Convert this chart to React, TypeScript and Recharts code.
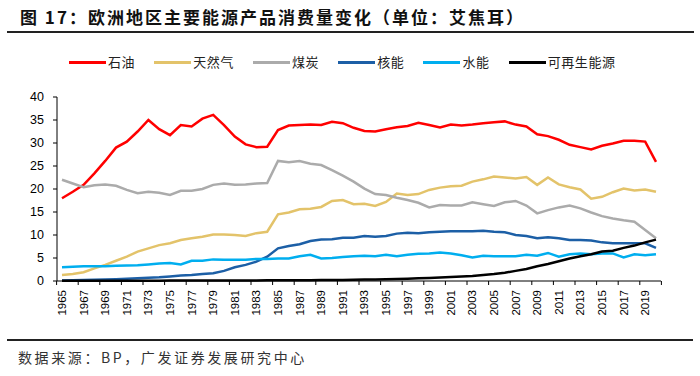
import { LineChart, Line, XAxis, YAxis } from "recharts";

const years = [
  "1965", "1966", "1967", "1968", "1969", "1970", "1971", "1972", "1973", "1974",
  "1975", "1976", "1977", "1978", "1979", "1980", "1981", "1982", "1983", "1984",
  "1985", "1986", "1987", "1988", "1989", "1990", "1991", "1992", "1993", "1994",
  "1995", "1996", "1997", "1998", "1999", "2000", "2001", "2002", "2003", "2004",
  "2005", "2006", "2007", "2008", "2009", "2010", "2011", "2012", "2013", "2014",
  "2015", "2016", "2017", "2018", "2019", "2020",
];

const oil = [
  18.0, 19.4, 20.9, 23.4, 26.1, 29.0, 30.3, 32.5, 35.0, 33.0,
  31.7, 33.9, 33.6, 35.3, 36.1, 33.9, 31.4, 29.7, 29.1, 29.2,
  32.8, 33.8, 33.9, 34.0, 33.9, 34.6, 34.3, 33.3, 32.6, 32.5,
  33.0, 33.4, 33.7, 34.4, 33.9, 33.4, 34.0, 33.8, 34.0, 34.3,
  34.5, 34.7, 34.0, 33.6, 31.9, 31.5, 30.7, 29.6, 29.1, 28.6,
  29.4, 29.9, 30.5, 30.5, 30.3, 25.9,
];

const gas = [
  1.3, 1.5, 1.9, 2.75, 3.5, 4.4, 5.3, 6.4, 7.1, 7.8,
  8.2, 8.9, 9.3, 9.6, 10.1, 10.1, 10.0, 9.8, 10.4, 10.7,
  14.5, 14.9, 15.6, 15.7, 16.1, 17.4, 17.6, 16.7, 16.8, 16.3,
  17.2, 19.0, 18.7, 18.9, 19.8, 20.3, 20.6, 20.7, 21.6, 22.1,
  22.7, 22.5, 22.3, 22.6, 20.9, 22.5, 21.0, 20.4, 19.9, 17.9,
  18.3, 19.3, 20.1, 19.7, 19.9, 19.4,
];

const coal = [
  22.0, 21.2, 20.4, 20.8, 21.0, 20.7, 19.8, 19.1, 19.4, 19.2,
  18.7, 19.6, 19.6, 20.0, 20.9, 21.2, 20.9, 21.0, 21.2, 21.3,
  26.1, 25.8, 26.1, 25.5, 25.2, 24.1, 22.9, 21.6, 20.1, 18.9,
  18.7, 18.1, 17.6, 17.0, 16.0, 16.5, 16.4, 16.4, 17.1, 16.7,
  16.3, 17.1, 17.4, 16.4, 14.7, 15.4, 16.0, 16.4, 15.8, 14.9,
  14.1, 13.6, 13.2, 12.9, 11.1, 9.3,
];

const nuclear = [
  0.1, 0.15, 0.2, 0.25, 0.3, 0.4, 0.5, 0.6, 0.7, 0.8,
  1.0, 1.2, 1.3, 1.5, 1.7, 2.2, 3.0, 3.5, 4.2, 5.3,
  7.1, 7.6, 8.0, 8.7, 9.0, 9.1, 9.4, 9.4, 9.8, 9.6,
  9.8, 10.3, 10.5, 10.4, 10.6, 10.7, 10.8, 10.8, 10.8, 10.9,
  10.7, 10.6, 10.0, 9.8, 9.3, 9.5, 9.3, 8.9, 8.9, 8.8,
  8.4, 8.2, 8.2, 8.2, 8.2, 7.2,
];

const hydro = [
  3.0, 3.1, 3.2, 3.2, 3.2, 3.3, 3.35, 3.4, 3.6, 3.8,
  3.9, 3.6, 4.4, 4.4, 4.7, 4.6, 4.6, 4.6, 4.8, 4.8,
  4.9, 4.9, 5.4, 5.7, 4.9, 5.0, 5.2, 5.4, 5.5, 5.4,
  5.7, 5.4, 5.7, 5.9, 6.0, 6.2, 6.0, 5.6, 5.1, 5.5,
  5.4, 5.4, 5.4, 5.7, 5.5, 6.1, 5.3, 5.8, 6.0, 5.8,
  6.0, 6.0, 5.1, 5.8, 5.6, 5.8,
];

const renewables = [
  0.05, 0.05, 0.05, 0.05, 0.06, 0.06, 0.07, 0.07, 0.08, 0.08,
  0.09, 0.09, 0.1, 0.1, 0.1, 0.11, 0.12, 0.12, 0.13, 0.14,
  0.15, 0.16, 0.17, 0.18, 0.2, 0.22, 0.24, 0.26, 0.3, 0.33,
  0.37, 0.42, 0.5, 0.58, 0.65, 0.75, 0.85, 1.0, 1.1, 1.3,
  1.5, 1.8, 2.2, 2.6, 3.2, 3.7, 4.3, 4.9, 5.4, 5.8,
  6.4, 6.6, 7.2, 7.7, 8.4, 9.0,
];

const xTicks = [
  "1965", "1967", "1969", "1971", "1973", "1975", "1977", "1979", "1981", "1983",
  "1985", "1987", "1989", "1991", "1993", "1995", "1997", "1999", "2001", "2003",
  "2005", "2007", "2009", "2011", "2013", "2015", "2017", "2019",
];
const yTicks = [0, 5, 10, 15, 20, 25, 30, 35, 40];

const series = [
  { key: "oil", name: "石油", color: "#FF0000" },
  { key: "gas", name: "天然气", color: "#E3C36A" },
  { key: "coal", name: "煤炭", color: "#ABABAB" },
  { key: "nuclear", name: "核能", color: "#1C5FA6" },
  { key: "hydro", name: "水能", color: "#00AEEF" },
  { key: "renewables", name: "可再生能源", color: "#000000" },
];

const data = years.map((year, i) => ({
  year,
  oil: oil[i],
  gas: gas[i],
  coal: coal[i],
  nuclear: nuclear[i],
  hydro: hydro[i],
  renewables: renewables[i],
}));

const HALF_BAND = 5.4;

function YearTick(props: any) {
  const { x, y, payload, index } = props;
  const last = index === xTicks.length - 1;
  return (
    <g>
      <line x1={x - HALF_BAND} x2={x - HALF_BAND} y1={y - 9} y2={y - 5} stroke="#000" />
      {last && (
        <line
          x1={x + 3 * HALF_BAND}
          x2={x + 3 * HALF_BAND}
          y1={y - 9}
          y2={y - 5}
          stroke="#000"
        />
      )}
      <text
        x={x}
        y={y}
        transform={`rotate(-90, ${x}, ${y})`}
        textAnchor="end"
        dominantBaseline="central"
        fontSize={11.5}
        fontFamily="Liberation Sans, Arial, sans-serif"
        fill="#000"
      >
        {payload.value}
      </text>
    </g>
  );
}

export default function App() {
  return (
    <div
      style={{
        position: "absolute",
        left: 0,
        top: 0,
        width: 700,
        height: 376,
        background: "#fff",
        fontFamily: "'Noto Sans CJK SC', sans-serif",
      }}
    >
      <div
        style={{
          position: "absolute",
          left: 20,
          top: 5,
          fontSize: 17,
          fontWeight: 700,
          letterSpacing: 2,
          color: "#111",
          whiteSpace: "nowrap",
          lineHeight: "24px",
        }}
      >
        图 17：欧洲地区主要能源产品消费量变化（单位：艾焦耳）
      </div>
      <div
        style={{
          position: "absolute",
          left: 7,
          top: 31,
          width: 687,
          height: 2,
          background: "#222",
        }}
      />

      <div
        style={{
          position: "absolute",
          left: 69,
          top: 53,
          display: "flex",
          alignItems: "center",
          gap: 19,
          fontSize: 13,
          color: "#222",
          whiteSpace: "nowrap",
          lineHeight: "18px",
        }}
      >
        {series.map((s) => (
          <div key={s.key} style={{ display: "flex", alignItems: "center" }}>
            <div style={{ width: 37, height: 3, background: s.color, marginRight: 2 }} />
            <span style={{ letterSpacing: 0.6 }}>{s.name}</span>
          </div>
        ))}
      </div>

      <div style={{ position: "absolute", left: 0, top: 0 }}>
        <LineChart
          width={700}
          height={376}
          data={data}
          margin={{ top: 97, right: 39, left: 12, bottom: 35 }}
        >
          <XAxis
            dataKey="year"
            ticks={xTicks}
            interval={0}
            height={60}
            padding={{ left: 5, right: 5 }}
            axisLine={{ stroke: "#000" }}
            tickLine={false}
            tickSize={4}
            tickMargin={5}
            tick={<YearTick />}
          />
          <YAxis
            domain={[0, 40]}
            ticks={yTicks}
            width={45}
            interval={0}
            axisLine={{ stroke: "#000" }}
            tickLine={{ stroke: "#000" }}
            tickSize={4}
            tickMargin={9}
            tick={{
              fill: "#000",
              fontSize: 12.5,
              fontFamily: "Liberation Sans, Arial, sans-serif",
            }}
          />
          {series.map((s) => (
            <Line
              key={s.key}
              type="linear"
              dataKey={s.key}
              name={s.name}
              stroke={s.color}
              strokeWidth={2.5}
              dot={false}
              isAnimationActive={false}
            />
          ))}
        </LineChart>
      </div>

      <div
        style={{
          position: "absolute",
          left: 7,
          top: 339,
          width: 686,
          height: 1.5,
          background: "#222",
        }}
      />
      <div
        style={{
          position: "absolute",
          left: 18,
          top: 347,
          fontSize: 14,
          letterSpacing: 2.6,
          color: "#333",
          whiteSpace: "nowrap",
          lineHeight: "20px",
        }}
      >
        数据来源：BP，广发证券发展研究中心
      </div>
    </div>
  );
}
